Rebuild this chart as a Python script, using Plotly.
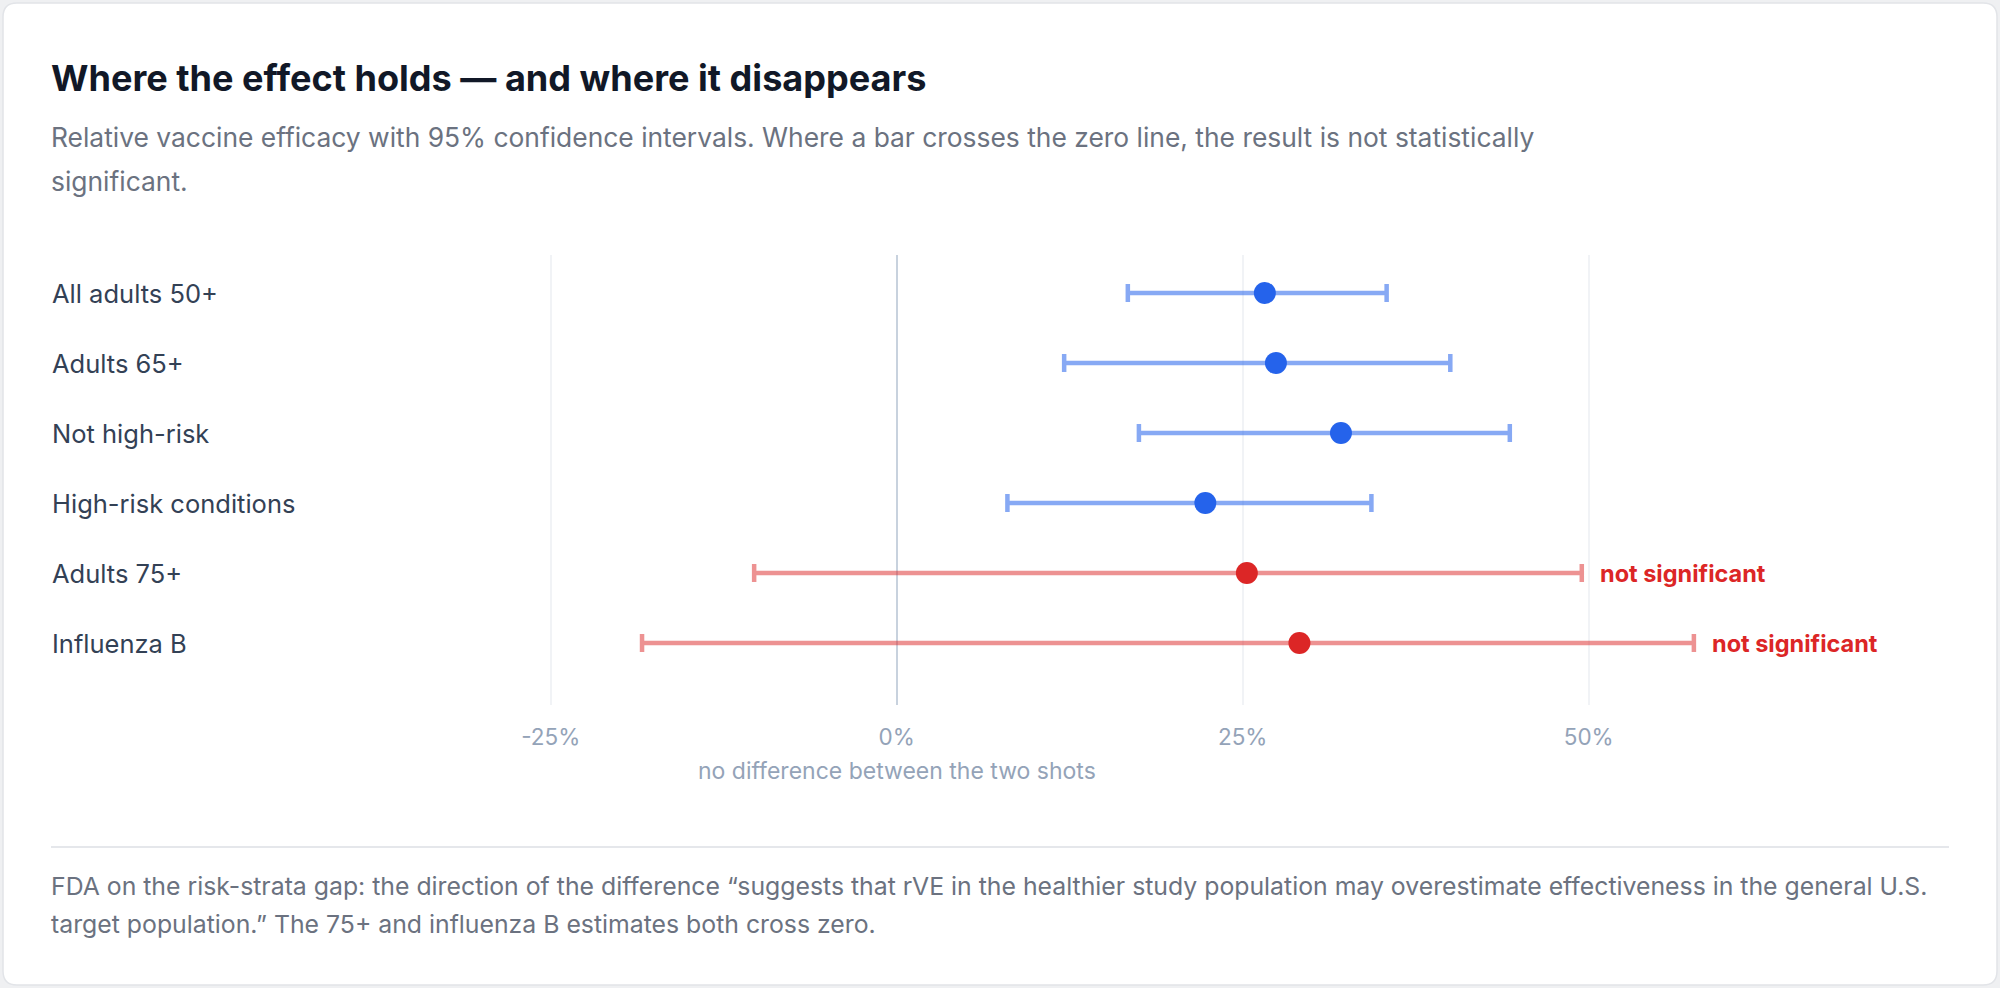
"""Forest plot — relative vaccine efficacy with 95% CIs by subgroup."""

import plotly.graph_objects as go

# ------------------------------------------------------------------
# Data (rVE %, 95% CI)
# ------------------------------------------------------------------
groups = [
    "All adults 50+",
    "Adults 65+",
    "Not high-risk",
    "High-risk conditions",
    "Adults 75+",
    "Influenza B",
]
rve = [26.6, 27.4, 32.1, 22.3, 25.3, 29.1]
ci_low = [16.7, 12.1, 17.5, 8.0, -10.3, -18.4]
ci_high = [35.4, 40.0, 44.3, 34.3, 49.5, 57.6]

tick_vals = [-25, 0, 25, 50]
tick_text = ["-25%", "0%", "25%", "50%"]

TITLE = "Where the effect holds — and where it disappears"
SUBTITLE = [
    "Relative vaccine efficacy with 95% confidence intervals. Where a bar crosses "
    "the zero line, the result is not statistically",
    "significant.",
]
FOOTER = [
    "FDA on the risk-strata gap: the direction of the difference “suggests that rVE in "
    "the healthier study population may overestimate effectiveness in the general U.S.",
    "target population.” The 75+ and influenza B estimates both cross zero.",
]
ZERO_NOTE = "no difference between the two shots"
NS_NOTE = "not significant"

# ------------------------------------------------------------------
# Page geometry (everything laid out in pixels, converted to paper)
# ------------------------------------------------------------------
W, H = 2000, 988
FONT = "Inter, 'Noto Sans', sans-serif"


def px(x):
    return x / W


def py(y):
    return 1 - y / H


BLUE = "#2563eb"
BLUE_CI = "rgba(37, 99, 235, 0.55)"
RED = "#dc2626"
RED_CI = "rgba(220, 38, 38, 0.5)"

fig = go.Figure()

for sig in (True, False):
    idx = [i for i in range(len(groups)) if (ci_low[i] > 0) == sig]
    fig.add_trace(
        go.Scatter(
            x=[rve[i] for i in idx],
            y=[groups[i] for i in idx],
            mode="markers",
            marker=dict(size=22, color=BLUE if sig else RED, line=dict(width=0)),
            error_x=dict(
                type="data",
                symmetric=False,
                array=[ci_high[i] - rve[i] for i in idx],
                arrayminus=[rve[i] - ci_low[i] for i in idx],
                color=BLUE_CI if sig else RED_CI,
                thickness=4.5,
                width=9,
            ),
            showlegend=False,
            hovertemplate="%{y}<br>rVE %{x:.1f}%<extra></extra>",
        )
    )

annotations = []

# Row labels (left aligned at the card's text margin)
for g in groups:
    annotations.append(dict(
        text=g, xref="paper", x=px(50), xanchor="left",
        yref="y", y=g, yanchor="middle", showarrow=False,
        font=dict(family=FONT, size=25.5, color="#334155"),
    ))

# "not significant" flags where the CI crosses zero
for g, lo, hi in zip(groups, ci_low, ci_high):
    if lo <= 0:
        annotations.append(dict(
            text=NS_NOTE, xref="x", x=hi, xanchor="left", xshift=16,
            yref="y", y=g, yanchor="middle", showarrow=False,
            font=dict(family=FONT, size=23.5, color=RED, weight=700),
        ))

annotations.append(dict(
    text=ZERO_NOTE, xref="x", x=0, xanchor="center",
    yref="paper", y=py(771), yanchor="middle", showarrow=False,
    font=dict(family=FONT, size=23, color="#94a3b8"),
))

annotations.append(dict(
    text=TITLE, xref="paper", x=px(49), xanchor="left",
    yref="paper", y=py(78), yanchor="middle", showarrow=False,
    font=dict(family=FONT, size=36.1, color="#111827", weight=700),
))
for line, y in zip(SUBTITLE, (137, 181)):
    annotations.append(dict(
        text=line, xref="paper", x=px(49), xanchor="left",
        yref="paper", y=py(y), yanchor="middle", showarrow=False,
        font=dict(family=FONT, size=26.4, color="#6b7280"),
    ))
for line, y in zip(FOOTER, (886, 924)):
    annotations.append(dict(
        text=line, xref="paper", x=px(49), xanchor="left",
        yref="paper", y=py(y), yanchor="middle", showarrow=False,
        font=dict(family=FONT, size=24.8, color="#6b7280"),
    ))

# Card background with rounded corners (quadratic corners in paper coords)
x0, x1, y0, y1, r = 3, 1997, 3, 985, 14
rx, ry = r / W, r / H
card = (
    f"M {px(x0) + rx},{py(y0)} L {px(x1) - rx},{py(y0)} "
    f"Q {px(x1)},{py(y0)} {px(x1)},{py(y0) - ry} "
    f"L {px(x1)},{py(y1) + ry} Q {px(x1)},{py(y1)} {px(x1) - rx},{py(y1)} "
    f"L {px(x0) + rx},{py(y1)} Q {px(x0)},{py(y1)} {px(x0)},{py(y1) + ry} "
    f"L {px(x0)},{py(y0) - ry} Q {px(x0)},{py(y0)} {px(x0) + rx},{py(y0)} Z"
)

shapes = [
    dict(type="path", path=card, xref="paper", yref="paper",
         fillcolor="#ffffff", line=dict(color="#e2e4e8", width=1.5), layer="below"),
    dict(type="line", xref="paper", yref="paper",
         x0=px(51), x1=px(1949), y0=py(847), y1=py(847),
         line=dict(color="#e5e7eb", width=2)),
]

# x: 0% sits at 896.7px, 13.84px per percentage point; plot spans 470..1950px
x_lo = (470 - 896.7) / 13.84
x_hi = (1950 - 896.7) / 13.84
# y: rows 70px apart, first row at 293px, plot spans 255..705px
y_top = -(293 - 255) / 70
y_bot = (len(groups) - 1) + (705 - 643) / 70

fig.update_layout(
    width=W,
    height=H,
    margin=dict(l=0, r=0, t=0, b=0, pad=0),
    paper_bgcolor="#eff0f2",
    plot_bgcolor="rgba(0,0,0,0)",
    font=dict(family=FONT, color="#334155"),
    xaxis=dict(
        domain=[px(470), px(1950)],
        range=[x_lo, x_hi],
        tickvals=tick_vals,
        ticktext=tick_text,
        tickfont=dict(family=FONT, size=22.5, color="#94a3b8"),
        ticks="outside", ticklen=12, tickcolor="rgba(0,0,0,0)",
        showgrid=True, gridcolor="#f1f3f6", gridwidth=1.5,
        zeroline=True, zerolinecolor="#c8d2de", zerolinewidth=2,
        showline=False, fixedrange=True,
    ),
    yaxis=dict(
        domain=[py(705), py(255)],
        range=[y_bot, y_top],
        type="category",
        categoryorder="array",
        categoryarray=groups,
        showticklabels=False,
        showgrid=False, zeroline=False, showline=False, fixedrange=True,
    ),
    annotations=annotations,
    shapes=shapes,
    hovermode="closest",
)

fig.write_html(
    "out.html",
    config={"displayModeBar": False},
    post_script="document.body.style.margin='0';document.body.style.overflow='hidden';",
)
